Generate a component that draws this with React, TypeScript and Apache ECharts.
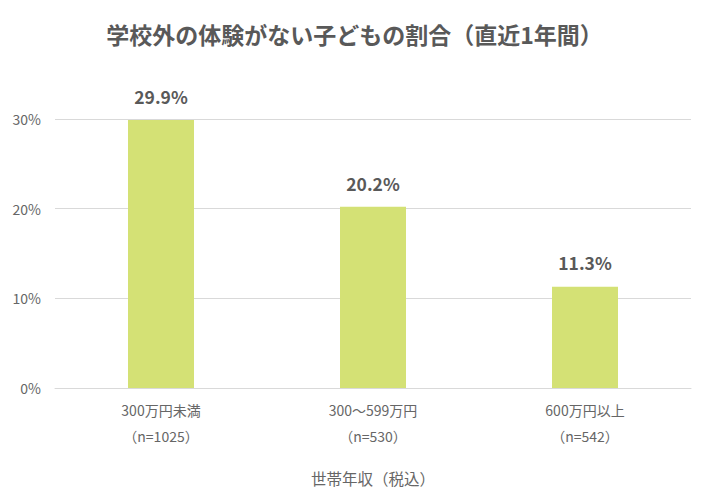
import React, { useEffect, useRef } from "react";
import * as echarts from "echarts";

const categories = ["300万円未満\n（n=1025）", "300〜599万円\n（n=530）", "600万円以上\n（n=542）"];
const values = [29.9, 20.2, 11.3];
const yTicks = [0, 10, 20, 30];

export default function App() {
  const ref = useRef<HTMLDivElement>(null);
  useEffect(() => {
    if (!ref.current) return;
    const chart = echarts.init(ref.current, null, { renderer: "svg" });
    const font = "'Noto Sans CJK JP', 'Noto Sans', sans-serif";
    chart.setOption({
      animation: false,
      textStyle: { fontFamily: font },
      title: {
        text: "学校外の体験がない子どもの割合（直近1年間）",
        left: "center",
        top: 17,
        textStyle: { fontFamily: font, fontSize: 23, fontWeight: "bold", color: "#595959" },
      },
      grid: { left: 55, right: 18, top: 119, bottom: 108 },
      xAxis: {
        type: "category",
        data: categories,
        name: "世帯年収（税込）",
        nameLocation: "middle",
        nameGap: 82,
        nameTextStyle: { fontFamily: font, fontSize: 15.5, color: "#666" },
        axisLine: { lineStyle: { color: "#d9d9d9", width: 1 } },
        axisTick: { show: false },
        axisLabel: { fontFamily: font, fontSize: 14, color: "#666", lineHeight: 26, margin: 9 },
      },
      yAxis: {
        type: "value",
        min: yTicks[0],
        max: yTicks[yTicks.length - 1],
        interval: 10,
        axisLine: { show: false },
        axisTick: { show: false },
        axisLabel: { formatter: "{value}%", fontFamily: font, fontSize: 14, color: "#666", margin: 14 },
        splitLine: { lineStyle: { color: "#d9d9d9", width: 1 } },
      },
      series: [
        {
          type: "bar",
          data: values,
          barWidth: 66,
          itemStyle: { color: "#d4e175" },
          label: {
            show: true,
            position: "top",
            distance: 15,
            formatter: (p: any) => p.value.toFixed(1) + "%",
            fontFamily: font,
            fontSize: 17.5,
            fontWeight: "bold",
            color: "#595959",
          },
        },
      ],
    });
    return () => chart.dispose();
  }, []);
  return <div ref={ref} style={{ width: 709, height: 496, margin: -8 }} />;
}
